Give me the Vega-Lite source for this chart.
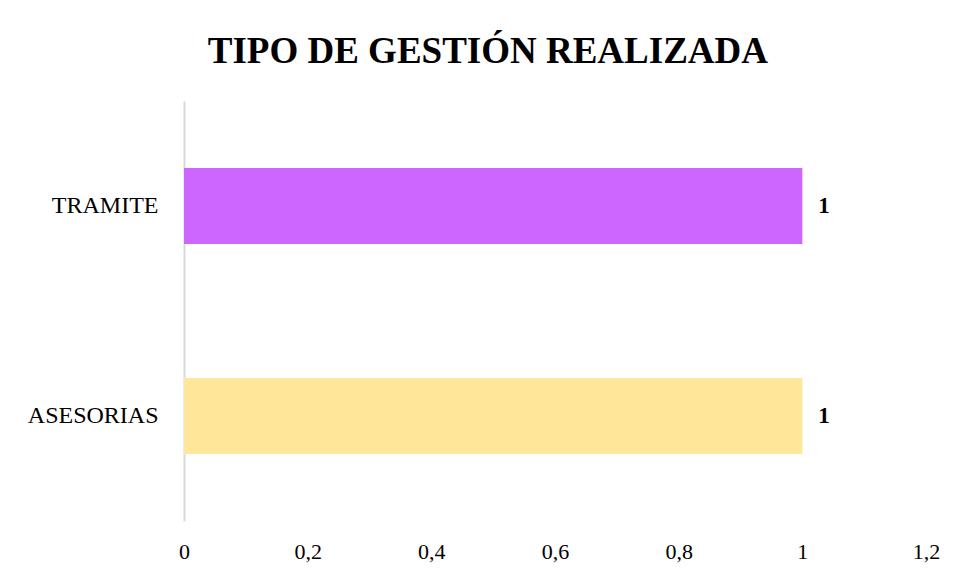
{
  "$schema": "https://vega.github.io/schema/vega-lite/v6.json",
  "width": 742,
  "height": 420,
  "padding": {"left": 14, "top": 33, "right": 5, "bottom": 5},
  "background": "white",
  "title": {
    "text": "TIPO DE GESTIÓN REALIZADA",
    "font": "Liberation Serif",
    "fontSize": 37,
    "fontWeight": "bold",
    "color": "black",
    "anchor": "middle",
    "frame": "bounds",
    "dx": 11,
    "offset": 30
  },
  "data": {
    "values": [
      {"tipo": "TRAMITE", "valor": 1},
      {"tipo": "ASESORIAS", "valor": 1}
    ]
  },
  "encoding": {
    "y": {
      "field": "tipo",
      "type": "nominal",
      "sort": ["TRAMITE", "ASESORIAS"],
      "scale": {"paddingInner": 0.638, "paddingOuter": 0.319},
      "axis": {
        "title": null,
        "ticks": false,
        "grid": false,
        "domain": true,
        "domainColor": "#d9d9d9",
        "domainWidth": 2,
        "labelFont": "Liberation Serif",
        "labelFontSize": 24,
        "labelColor": "black",
        "labelPadding": 26,
        "minExtent": 170,
        "maxExtent": 170
      }
    },
    "x": {
      "field": "valor",
      "type": "quantitative",
      "scale": {"domain": [0, 1.2], "nice": false},
      "axis": {
        "title": null,
        "values": [0, 0.2, 0.4, 0.6, 0.8, 1, 1.2],
        "labelExpr": "replace(format(datum.value, '.1~f'), '.', ',')",
        "ticks": false,
        "grid": false,
        "domain": false,
        "labelFlush": false,
        "labelFont": "Liberation Serif",
        "labelFontSize": 22,
        "labelColor": "black",
        "labelPadding": 20
      }
    }
  },
  "layer": [
    {
      "mark": {"type": "bar"},
      "encoding": {
        "color": {
          "field": "tipo",
          "type": "nominal",
          "scale": {"domain": ["TRAMITE", "ASESORIAS"], "range": ["#CC66FF", "#FFE699"]},
          "legend": null
        }
      }
    },
    {
      "mark": {
        "type": "text",
        "align": "left",
        "baseline": "middle",
        "dx": 16,
        "font": "Liberation Serif",
        "fontSize": 23,
        "fontWeight": "bold",
        "color": "black"
      },
      "encoding": {
        "text": {"field": "valor", "type": "quantitative"}
      }
    }
  ],
  "config": {"view": {"stroke": null}}
}
